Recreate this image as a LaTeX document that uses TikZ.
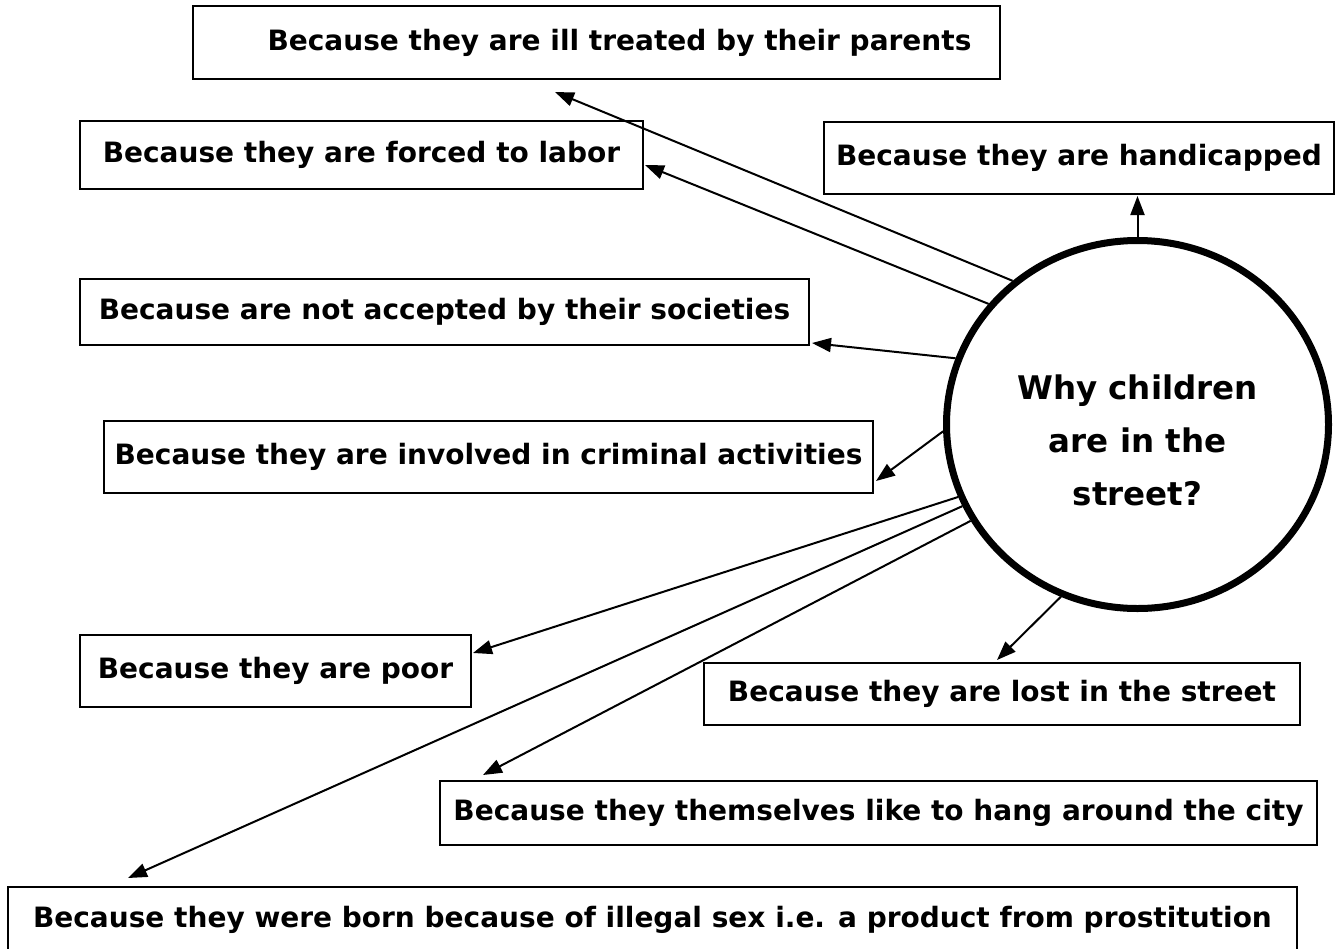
\documentclass[tikz,border=0pt]{standalone}
\usepackage{fontspec}
\setmainfont{DejaVu Sans}
\usetikzlibrary{arrows.meta,shapes.geometric}
\begin{document}
\begin{tikzpicture}[x=1pt,y=-1pt,
  reason/.style={draw, line width=2pt, inner sep=0pt, outer sep=0pt,
    font=\bfseries\fontsize{28}{33}\selectfont},
  hub/.style={draw, ellipse, line width=7pt, inner sep=0pt,
    minimum width=382pt, minimum height=368pt},
  hubtext/.style={align=center, font=\bfseries\fontsize{32.5}{53}\selectfont},
  link/.style={line width=2pt, -{Triangle[length=19pt,width=14pt]}},
]
\useasboundingbox (0,0) rectangle (1341,948);

% central question
\node[hub] (q) at (1137.5,424.5) {};
\node[hubtext] (qt) at (1137.5,440) {Why children\\are in the\\street?};

% the reasons
\node[reason, minimum width=807pt, minimum height=73pt] (ill) at (596.5,42.5)
  {\hspace*{46pt}Because they are ill treated by their parents};
\node[reason, minimum width=510pt, minimum height=72pt] (hand) at (1079,158)
  {Because they are handicapped};
\node[reason, minimum width=563pt, minimum height=68pt] (labor) at (361.5,155)
  {Because they are forced to labor};
\node[reason, minimum width=729pt, minimum height=66pt] (soc) at (444.5,312)
  {Because are not accepted by their societies};
\node[reason, minimum width=769pt, minimum height=72pt] (crim) at (488.5,457)
  {Because they are involved in criminal activities};
\node[reason, minimum width=391pt, minimum height=72pt] (poor) at (275.5,671)
  {Because they are poor};
\node[reason, minimum width=596pt, minimum height=62pt] (lost) at (1002,694)
  {Because they are lost in the street};
\node[reason, minimum width=877pt, minimum height=64pt] (hang) at (878.5,813)
  {Because they themselves like to hang around the city};
\node[reason, minimum width=1289pt, minimum height=66pt] (born) at (652.5,920)
  {Because they were born because of illegal sex i.e. a product from prostitution};

% arrow tips
\coordinate (tIll)  at (555,92);
\coordinate (tHand) at (1137.5,196);
\coordinate (tLab)  at (645,165);
\coordinate (tSoc)  at (812,343);
\coordinate (tCrim) at (876,481);
\coordinate (tPoor) at (473,653);
\coordinate (tBorn) at (128,878);
\coordinate (tHang) at (483,775);
\coordinate (tLost) at (997,660);

% connectors from the circle
\draw[link] (q.131)   -- (tIll);
\draw[link] (q.90)    -- (tHand);
\draw[link] (q.141.2) -- (tLab);
\draw[link] (q.160.5) -- (tSoc);
\draw[link] (q.182.2) -- (tCrim);
\draw[link] (q.202.2) -- (tPoor);
\draw[link] (q.205.7) -- (tBorn);
\draw[link] (q.210.7) -- (tHang);
\draw[link] (q.246.8) -- (tLost);
\end{tikzpicture}
\end{document}
